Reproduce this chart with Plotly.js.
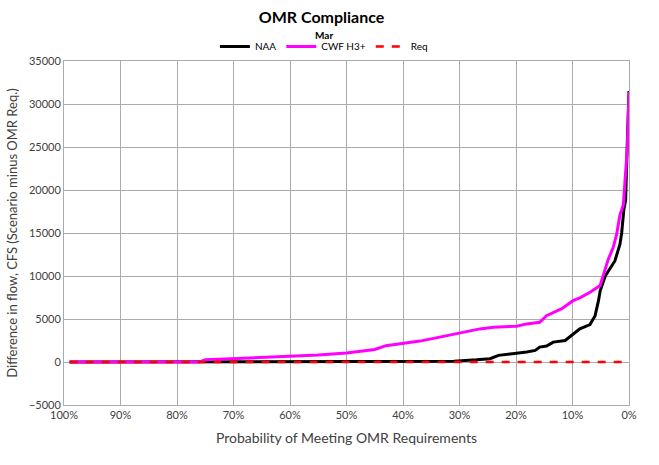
<!DOCTYPE html>
<html>
<head>
<meta charset="utf-8">
<script src="https://cdn.plot.ly/plotly-3.0.1.min.js"></script>
<style>html,body{margin:0;padding:0;background:#fff;}#chart{width:659px;height:465px;}</style>
</head>
<body>
<div id="chart"></div>
<script>
// Probability of meeting requirement (fraction) and flow difference (cfs)
const naaProb = [0.99, 0.75, 0.50, 0.37, 0.31, 0.27, 0.246, 0.231, 0.199, 0.181, 0.166, 0.158, 0.146, 0.134, 0.113, 0.099, 0.087, 0.069, 0.060, 0.054, 0.051, 0.042, 0.025, 0.016, 0.013, 0.009, 0.006, 0.003, 0.0];
const naaVal  = [0,    0,    0,    0,    80,   250,  390,   770,   970,   1160,  1350,  1730,  1850,  2310,  2500,  3280,  3860,  4350,  5390,  7130,  8280,  10000, 11750, 13700, 15000, 17800, 18800, 25500, 31500];

const cwfProb = [0.99, 0.76, 0.75, 0.70, 0.65, 0.60, 0.55, 0.50, 0.46, 0.45, 0.43, 0.40, 0.37, 0.335, 0.323, 0.299, 0.288, 0.264, 0.24, 0.199, 0.181, 0.158, 0.146, 0.128, 0.119, 0.099, 0.087, 0.069, 0.051, 0.037, 0.028, 0.022, 0.016, 0.010, 0.003, 0.0];
const cwfVal  = [0,    0,    250,  400,  550,  700,  800,  1050, 1300, 1450, 1900, 2150, 2430, 2890,  3050,  3390,  3550,  3850,  4050, 4160,  4430,  4620,  5390,  5970,  6200,  7130,  7450,  8100,  8900,  11900, 13300, 14800, 17100, 18300, 24800, 31400];

const reqProb = [0.99, 0.01];
const reqVal  = [0, 0];

const xTicks = [1, 0.9, 0.8, 0.7, 0.6, 0.5, 0.4, 0.3, 0.2, 0.1, 0];

const fontFam = 'Lato, "Open Sans", sans-serif';

const traces = [
  {x: naaProb, y: naaVal, name: 'NAA', type: 'scatter', mode: 'lines', line: {color: '#000000', width: 3}},
  {x: cwfProb, y: cwfVal, name: 'CWF H3+', type: 'scatter', mode: 'lines', line: {color: '#FF00FF', width: 3}},
  {x: reqProb, y: reqVal, name: 'Req', type: 'scatter', mode: 'lines', line: {color: '#FF0000', width: 2.5, dash: '8px,8px'}}
];

const layout = {
  width: 659, height: 465,
  margin: {l: 64, r: 30, t: 61, b: 60},
  paper_bgcolor: '#ffffff', plot_bgcolor: '#ffffff',
  font: {family: fontFam, color: '#404040', size: 11},
  title: {text: '<b>OMR Compliance</b>', x: 0.488, xanchor: 'center', y: 0.962, yanchor: 'middle', font: {family: fontFam, size: 16, color: '#000000'}},
  annotations: [
    {text: '<b>Mar</b>', xref: 'paper', yref: 'paper', x: 0.46, y: 1.0, yshift: 26, xanchor: 'center', yanchor: 'middle', showarrow: false, font: {family: fontFam, size: 10, color: '#000000'}}
  ],
  showlegend: true,
  legend: {orientation: 'h', x: 0.46, xanchor: 'center', y: 1.0, yanchor: 'bottom', yref: 'paper', font: {family: fontFam, size: 10, color: '#000000'}, itemwidth: 30, tracegroupgap: 0, bgcolor: 'rgba(0,0,0,0)'},
  xaxis: {
    range: [1, 0], tickvals: xTicks, tickformat: '.0%',
    showgrid: true, gridcolor: '#ababab', gridwidth: 1,
    showline: true, linecolor: '#ababab', mirror: true, zeroline: false,
    ticks: '', tickfont: {size: 11, color: '#404040'},
    title: {text: 'Probability of Meeting OMR Requirements', font: {size: 14, color: '#404040'}, standoff: 12}
  },
  yaxis: {
    range: [-5000, 35000], dtick: 5000, tickformat: 'd',
    showgrid: true, gridcolor: '#ababab', gridwidth: 1,
    showline: true, linecolor: '#ababab', mirror: true, zeroline: false,
    ticks: '', tickfont: {size: 11, color: '#404040'},
    title: {text: 'Difference in flow, CFS (Scenario minus OMR Req.)', font: {size: 13, color: '#404040'}, standoff: 8}
  }
};

Plotly.newPlot('chart', traces, layout, {displayModeBar: false, staticPlot: true});
</script>
</body>
</html>
